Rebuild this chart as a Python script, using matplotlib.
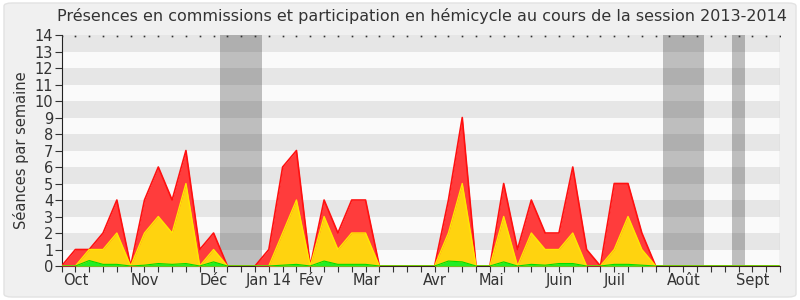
import numpy as np
import matplotlib
matplotlib.use("Agg")
import matplotlib.pyplot as plt
import matplotlib.transforms as mtransforms
from matplotlib.patches import FancyBboxPatch

# weekly values, session 2013-2014 (53 weeks)
hemicycle = [0, 1, 1, 2, 4, 0, 4, 6, 4, 7, 1, 2, 0, 0, 0, 1, 6, 7, 0, 4, 2, 4, 4, 0,
             0, 0, 0, 0, 4, 9, 0, 0, 5, 1, 4, 2, 2, 6, 1, 0, 5, 5, 2, 0,
             0, 0, 0, 0, 0, 0, 0, 0, 0]
commission = [0, 0, 1, 1, 2, 0, 2, 3, 2, 5, 0, 1, 0, 0, 0, 0, 2, 4, 0, 3, 1, 2, 2, 0,
              0, 0, 0, 0, 2, 5, 0, 0, 3, 0, 2, 1, 1, 2, 0, 0, 1, 3, 1, 0,
              0, 0, 0, 0, 0, 0, 0, 0, 0]
autre = [0, 0, 0.33, 0.1, 0.1, 0, 0.05, 0.15, 0.1, 0.15, 0, 0.25, 0, 0, 0, 0, 0.05, 0.1,
         0, 0.3, 0.1, 0.1, 0.1, 0, 0, 0, 0, 0, 0.3, 0.25, 0, 0, 0.25, 0, 0.1, 0.05,
         0.15, 0.15, 0, 0, 0.1, 0.1, 0.05, 0, 0, 0, 0, 0, 0, 0, 0, 0, 0]
vacances = [(11.5, 14.5), (43.5, 46.5), (48.5, 49.5)]
mois = ["Oct", "Nov", "Déc", "Jan 14", "Fév", "Mar", "Avr", "Mai", "Juin", "Juil", "Août", "Sept"]
mois_pos = [1, 6, 11, 15, 18.1, 22.1, 27, 31.1, 36, 40, 45, 50]

semaines = np.arange(len(hemicycle))

fig = plt.figure(figsize=(8, 3), dpi=100, facecolor="white")
fig.patches.append(FancyBboxPatch((0.005, 0.01), 0.99, 0.98, boxstyle="round,pad=0,rounding_size=0.01",
                                  transform=fig.transFigure, facecolor="#f0f0f0",
                                  edgecolor="#e2e2e2", lw=1, zorder=-10))
ax = fig.add_axes([0.077, 0.1133, 0.898, 0.77])
ax.set_facecolor("#fafafa")

for a, b in vacances:
    ax.axvspan(a, b, color="#bebebe", lw=0, zorder=1)
for k in range(1, 14, 2):
    ax.axhspan(k, k + 1, color="black", alpha=0.08, lw=0, zorder=2)

ax.fill_between(semaines, hemicycle, color="#ff3c3c", lw=0, zorder=3)
ax.plot(semaines, hemicycle, color="#ff1010", lw=1.2, zorder=4)
ax.fill_between(semaines, commission, color="#ffd30f", lw=0, zorder=5)
ax.plot(semaines, commission, color="#ffe800", lw=1, zorder=6)
ax.fill_between(semaines, autre, color="#22ee22", lw=0, zorder=7)
ax.plot(semaines, autre, color="#00dd00", lw=0.8, zorder=8)

ax.set_xlim(0, 52)
ax.set_ylim(0, 14)
ax.set_yticks(range(15))
ax.set_xticks(semaines)
ax.set_xticklabels([])
ax.tick_params(axis="x", length=4, color="#333333", direction="out")
ax.tick_params(axis="y", length=5, labelsize=10.5, colors="#333333", pad=1)
ax.set_ylabel("Séances par semaine", fontsize=10.5, color="#333333", labelpad=4)

# month names under the axis
trans = mtransforms.blended_transform_factory(ax.transData, ax.transAxes)
for nom, pos in zip(mois, mois_pos):
    ax.text(pos, -0.03, nom, transform=trans, ha="center", va="top", fontsize=10.5, color="#333333")

for side in ["top", "right"]:
    ax.spines[side].set_visible(False)
ax.spines["left"].set_color("#222222")
ax.spines["bottom"].set_color("#3a2020")
ax.axvline(52, color="#d0d0d0", lw=1, zorder=9)
# small marks along the top edge
ax.plot(semaines, [13.93] * len(semaines), ls="none", marker="s", ms=1.2, mew=0, color="#333333", zorder=9)

fig.text(0.528, 0.945, "Présences en commissions et participation en hémicycle au cours de la session 2013-2014",
         ha="center", va="center", fontsize=11.5, color="#333333")

fig.savefig("out.png", dpi=100, facecolor=fig.get_facecolor())
